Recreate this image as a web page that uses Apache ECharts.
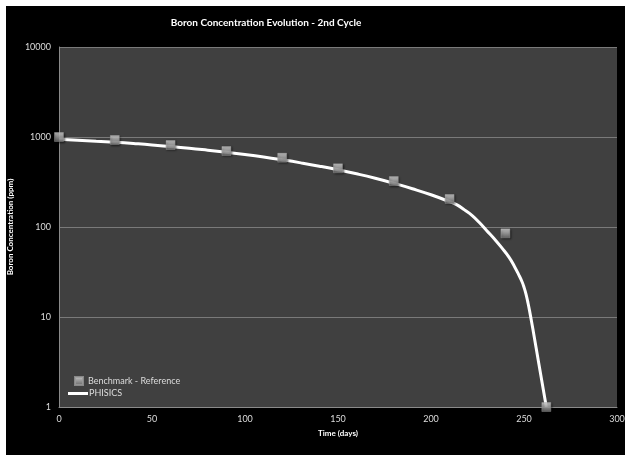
<!DOCTYPE html>
<html>
<head>
<meta charset="utf-8">
<script src="https://cdn.jsdelivr.net/npm/echarts@6/dist/echarts.min.js"></script>
<style>
  html, body { margin: 0; padding: 0; background: #ffffff; }
  #chart { position: absolute; left: 6px; top: 6px; width: 619px; height: 449px; }
</style>
</head>
<body>
<div id="chart"></div>
<script>
// Benchmark reference points (days, ppm)
const benchDays = [0, 30, 60, 90, 120, 150, 180, 210, 240, 262];
const benchPpm  = [1000, 926, 815, 699, 589, 449, 324, 205, 85, 1];

// PHISICS calculated boron letdown curve (days, ppm)
const phisicsDays = [0, 10, 20, 30, 40, 50, 60, 70, 80, 90, 100, 110, 120, 130, 140, 150,
                     160, 170, 180, 190, 200, 210, 214, 218, 222, 226, 230, 234, 238, 242,
                     245, 247, 249, 250, 251, 252, 253, 255, 258, 262];
const phisicsPpm  = [944, 923, 899, 875, 847, 817, 783, 750, 714, 678, 640, 600, 558, 516, 474, 432,
                     390, 348, 306, 266, 228, 191, 176, 155, 135, 112, 91, 74, 59, 46,
                     36, 30, 24.5, 21.4, 18.2, 14.8, 11.7, 6.9, 3.0, 1];

const xTicks = { min: 0, max: 300, step: 50 };
const yTicks = { min: 1, max: 10000 };

const chartTitle = 'Boron Concentration Evolution - 2nd Cycle';
const xName = 'Time (days)';
const yName = 'Boron Concentration (ppm)';
const benchName = 'Benchmark - Reference';
const phisicsName = 'PHISICS';

const font = 'Lato, "Open Sans", sans-serif';
const labelColor = '#dcdcdc';

const chart = echarts.init(document.getElementById('chart'), null, { renderer: 'canvas' });

chart.setOption({
  backgroundColor: '#000000',
  animation: false,
  graphic: [{
    type: 'text',
    x: 260,
    y: 17,
    style: {
      text: chartTitle, fill: '#ffffff', font: 'bold 10px ' + font,
      align: 'center', verticalAlign: 'middle'
    }
  }],
  legend: [{
    data: [{ name: benchName, icon: 'rect' }],
    left: 68, top: 370, padding: 0,
    itemWidth: 8, itemHeight: 8, itemGap: 0,
    textStyle: { color: labelColor, fontSize: 9, fontFamily: font }
  }, {
    data: [{ name: phisicsName, icon: 'rect' }],
    left: 62, top: 383, padding: 0,
    itemWidth: 20, itemHeight: 3,
    textStyle: { color: labelColor, fontSize: 9, fontFamily: font, padding: [0, 0, 0, -4] }
  }],
  grid: {
    left: 53, right: 8, top: 41, bottom: 48,
    containLabel: false, outerBoundsMode: 'none',
    show: true, backgroundColor: '#404040', borderWidth: 0
  },
  xAxis: {
    type: 'value',
    min: xTicks.min, max: xTicks.max, interval: xTicks.step,
    name: xName, nameLocation: 'middle', nameGap: 22,
    nameTextStyle: { color: '#ffffff', fontSize: 8, fontWeight: 'bold', fontFamily: font },
    axisLine: { lineStyle: { color: '#8a8a8a', width: 1 } },
    axisTick: { show: false },
    splitLine: { show: false },
    axisLabel: { color: labelColor, fontSize: 9, fontFamily: font, margin: 8 }
  },
  yAxis: {
    type: 'log', logBase: 10,
    min: yTicks.min, max: yTicks.max,
    name: yName, nameLocation: 'middle', nameGap: 38,
    nameTextStyle: { color: '#ffffff', fontSize: 8, fontWeight: 'bold', fontFamily: font },
    axisLine: { show: true, lineStyle: { color: '#8a8a8a', width: 1 } },
    axisTick: { show: false },
    minorTick: { show: false },
    splitLine: { show: true, lineStyle: { color: '#7a7a7a', width: 1 } },
    axisLabel: {
      color: labelColor, fontSize: 9, fontFamily: font, margin: 8,
      formatter: (v) => String(Math.round(v))
    }
  },
  series: [{
    name: phisicsName,
    type: 'line',
    data: phisicsDays.map((d, i) => [d, phisicsPpm[i]]),
    smooth: 0.5,
    symbol: 'none',
    lineStyle: { color: '#ffffff', width: 3 },
    itemStyle: { color: '#ffffff' },
    z: 2
  }, {
    name: benchName,
    type: 'scatter',
    data: benchDays.map((d, i) => [d, benchPpm[i]]),
    symbol: 'rect',
    symbolSize: 9,
    itemStyle: {
      color: new echarts.graphic.LinearGradient(0, 0, 0, 1, [
        { offset: 0, color: '#f2f2f2' },
        { offset: 0.35, color: '#bdbdbd' },
        { offset: 1, color: '#6e6e6e' }
      ]),
      borderColor: '#9a9a9a', borderWidth: 0.5,
      shadowColor: 'rgba(0,0,0,0.6)', shadowBlur: 2, shadowOffsetX: 1, shadowOffsetY: 1
    },
    z: 3
  }]
});
</script>
</body>
</html>
